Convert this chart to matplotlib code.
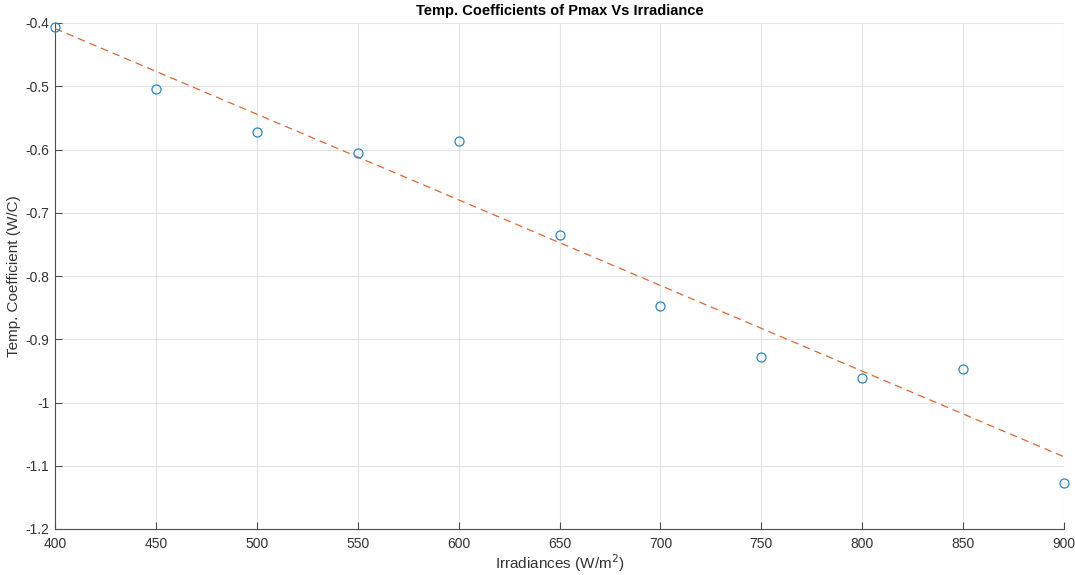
import numpy as np
import matplotlib.pyplot as plt

irradiance = [400, 450, 500, 550, 600, 650, 700, 750, 800, 850, 900]
temp_coeff = [-0.406, -0.504, -0.572, -0.606, -0.587, -0.735, -0.847, -0.928, -0.961, -0.947, -1.127]

plt.rcParams['font.family'] = ['Liberation Sans', 'DejaVu Sans']

fig = plt.figure(figsize=(10.75, 5.75), dpi=100)
ax = fig.add_axes([55/1075, 1 - 529/575, (1064 - 55)/1075, (529 - 23)/575])

# linear fit through the points
p = np.polyfit(irradiance, temp_coeff, 1)
xs = np.array([irradiance[0], irradiance[-1]])
ax.plot(xs, np.polyval(p, xs), '--', color='#E2652F', lw=0.9, dashes=(6, 4), zorder=3)
ax.plot(irradiance, temp_coeff, 'o', mfc='none', mec='#2C86C8', ms=6.5, mew=0.9, zorder=4, clip_on=False)

ax.set_xlim(400, 900)
ax.set_ylim(-1.2, -0.4)
ax.set_xticks(range(400, 901, 50))
ax.set_yticks(np.arange(-1.2, -0.39, 0.1))
ax.set_yticklabels(['-1.2', '-1.1', '-1', '-0.9', '-0.8', '-0.7', '-0.6', '-0.5', '-0.4'])
ax.grid(True, color='#e3e3e3', lw=0.8)
ax.set_axisbelow(True)
for s in ['top', 'right']:
    ax.spines[s].set_visible(False)
for s in ['left', 'bottom']:
    ax.spines[s].set_color('#4d4d4d')
    ax.spines[s].set_linewidth(0.8)
ax.tick_params(direction='in', length=5, width=0.8, colors='#4d4d4d', labelsize=10)
ax.tick_params(axis='y', pad=4)
ax.tick_params(axis='x', pad=6)
for lbl in ax.get_xticklabels() + ax.get_yticklabels():
    lbl.set_color('#333333')

ax.set_title('Temp. Coefficients of Pmax Vs Irradiance', fontsize=10.5, fontweight='bold', pad=6)
ax.set_xlabel('Irradiances (W/m$^2$)', fontsize=11, color='#333333', labelpad=1)
ax.set_ylabel('Temp. Coefficient (W/C)', fontsize=11, color='#333333', labelpad=3)

fig.savefig('out.png', dpi=100)
